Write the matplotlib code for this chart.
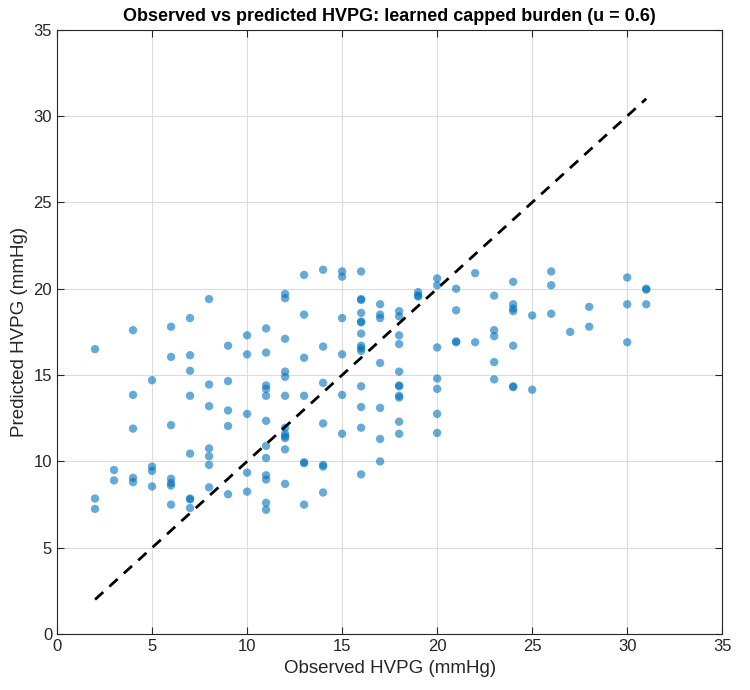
import matplotlib
matplotlib.use("Agg")
import matplotlib.pyplot as plt
import numpy as np

plt.rcParams['font.family'] = ['Liberation Sans', 'DejaVu Sans']

obs_groups = [2,3,4,5,6,7,8,9,10,11,12,13,14,15,16,17,18,19,20,21,22,23,24,25,26,27,28,30,31]
pred_groups = [
 [16.5, 7.85, 7.25],
 [9.5, 8.9],
 [17.6, 13.85, 11.9, 9.05, 8.8],
 [14.7, 9.7, 9.45, 8.55],
 [17.8, 16.05, 12.1, 9.0, 8.75, 8.6, 7.5],
 [18.3, 16.15, 15.25, 13.8, 10.45, 7.85, 7.8, 7.3],
 [19.4, 14.45, 13.2, 10.75, 10.3, 9.8, 8.5],
 [16.7, 14.65, 12.95, 12.05, 8.1],
 [17.3, 16.2, 12.75, 9.35, 8.25],
 [17.7, 16.3, 14.4, 14.2, 13.8, 12.35, 10.9, 10.2, 9.2, 8.95, 7.6, 7.2],
 [19.7, 19.45, 17.1, 15.2, 14.9, 13.8, 11.95, 11.6, 11.45, 11.35, 10.7, 8.7],
 [20.8, 18.5, 16.0, 13.8, 9.95, 9.9, 7.5],
 [21.1, 16.65, 14.55, 12.2, 9.8, 9.7, 8.2],
 [21.0, 20.7, 18.3, 16.2, 13.85, 11.6],
 [21.0, 19.4, 19.35, 18.6, 18.1, 18.05, 17.4, 16.7, 16.55, 16.4, 14.35, 13.15, 11.95, 9.25],
 [19.1, 18.5, 18.3, 15.7, 13.1, 11.3, 10.0],
 [18.7, 18.4, 17.3, 16.8, 15.2, 14.4, 14.35, 13.8, 13.7, 12.3, 11.6],
 [19.8, 19.6, 19.55],
 [20.6, 20.2, 16.6, 14.8, 14.2, 12.75, 11.65],
 [20.0, 18.75, 16.95, 16.9],
 [20.9, 16.9],
 [19.6, 17.6, 17.25, 15.75, 14.75],
 [20.4, 19.1, 18.85, 18.7, 16.7, 14.35, 14.3],
 [18.45, 14.15],
 [21.0, 20.2, 18.55],
 [17.5],
 [18.95, 17.8],
 [20.65, 19.1, 16.9],
 [20.0, 19.95, 19.1],
]
observed = np.concatenate([[o]*len(p) for o, p in zip(obs_groups, pred_groups)])
predicted = np.concatenate(pred_groups)

fig = plt.figure(figsize=(7.5, 6.9), dpi=100)
ax = fig.add_axes([0.076, 0.081, 0.887, 0.876])
ax.scatter(observed, predicted, s=36, color='#0072BD', alpha=0.6, edgecolors='none', zorder=3)
lo, hi = observed.min(), observed.max()
ax.plot([lo, hi], [lo, hi], 'k--', lw=2, dashes=(4, 3), zorder=4)
ax.set_xlim(0, 35); ax.set_ylim(0, 35)
ax.set_xticks(range(0, 36, 5)); ax.set_yticks(range(0, 36, 5))
ax.grid(True, color='#dcdcdc', lw=0.8, zorder=0)
ax.set_axisbelow(True)
ax.tick_params(direction='in', labelsize=12, colors='#262626', length=5, top=True, right=True, labeltop=False, labelright=False)
for s in ax.spines.values():
    s.set_color('#262626'); s.set_linewidth(0.8)
ax.set_xlabel('Observed HVPG (mmHg)', fontsize=13.5, color='#262626')
ax.set_ylabel('Predicted HVPG (mmHg)', fontsize=13.5, color='#262626')
ax.set_title('Observed vs predicted HVPG: learned capped burden (u = 0.6)', fontsize=13, fontweight='bold', pad=6)
fig.savefig('out.png', dpi=100)
